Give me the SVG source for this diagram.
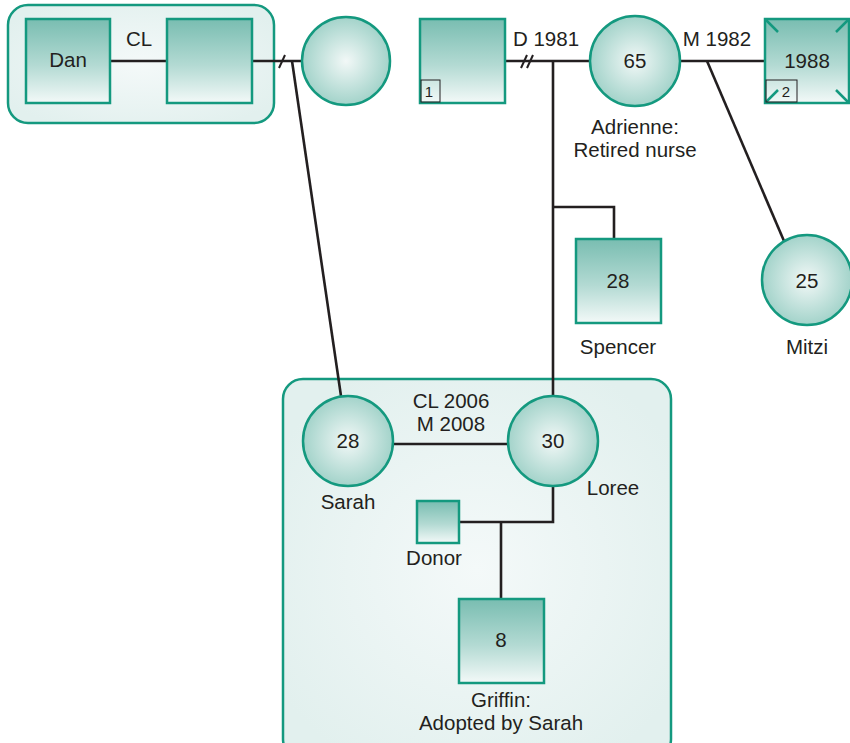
<svg xmlns="http://www.w3.org/2000/svg" width="850" height="743" viewBox="0 0 850 743">
<defs>
<linearGradient id="sq" x1="0" y1="0" x2="0" y2="1">
<stop offset="0" stop-color="#79bdb1"/>
<stop offset="0.55" stop-color="#b3dad3"/>
<stop offset="1" stop-color="#f3f9f8"/>
</linearGradient>
<radialGradient id="ci" cx="0.5" cy="0.5" r="0.5">
<stop offset="0" stop-color="#f2f8f7"/>
<stop offset="1" stop-color="#a3d3ca"/>
</radialGradient>
<radialGradient id="grp" cx="0.5" cy="0.5" r="0.6">
<stop offset="0" stop-color="#f4f9f9"/>
<stop offset="1" stop-color="#e2f0ee"/>
</radialGradient>
<style>
.sq{fill:url(#sq);stroke:#14997f;stroke-width:2.5}
.ci{fill:url(#ci);stroke:#14997f;stroke-width:2.5}
.grp{fill:url(#grp);stroke:#14997f;stroke-width:2.5}
.ln{fill:none;stroke:#231f20;stroke-width:2.6}
.mk{fill:none;stroke:#231f20;stroke-width:2}
.cr{stroke:#14997f;stroke-width:2.5}
.bx{fill:none;stroke:#231f20;stroke-width:1}
text{font-family:"Liberation Sans",Arial,sans-serif;font-size:20.5px;fill:#231f20;text-anchor:middle}
.sm{font-size:15px}
</style>
</defs>
<g id="group-top"><rect class="grp" x="8" y="5" width="266" height="118" rx="20"/></g>
<g id="group-bottom"><rect class="grp" x="283" y="379" width="388" height="380" rx="20"/></g>
<g id="connectors">
<line class="ln" x1="110" y1="61" x2="167" y2="61"/>
<line class="ln" x1="252" y1="61" x2="302" y2="61"/>
<line class="mk" x1="279" y1="68" x2="285" y2="55"/>
<line class="ln" x1="292" y1="61" x2="341" y2="396"/>
<line class="ln" x1="505" y1="61" x2="590" y2="61"/>
<line class="mk" x1="521" y1="68" x2="527" y2="55"/>
<line class="mk" x1="527" y1="68" x2="533" y2="55"/>
<line class="ln" x1="553" y1="61" x2="553" y2="396"/>
<polyline class="ln" points="553,207 614,207 614,239"/>
<line class="ln" x1="680" y1="61" x2="765" y2="61"/>
<line class="ln" x1="707" y1="61" x2="784" y2="241"/>
<line class="ln" x1="393" y1="444" x2="507" y2="444"/>
<polyline class="ln" points="459,522 553,522 553,486"/>
<line class="ln" x1="501" y1="522" x2="501" y2="599"/>
</g>
<g id="dan"><rect class="sq" x="26" y="19" width="84" height="84"/><text x="68" y="67">Dan</text></g>
<text x="139" y="46">CL</text>
<g id="partner-dan"><rect class="sq" x="167" y="19" width="85" height="84"/></g>
<g id="woman-top"><circle class="ci" cx="346" cy="61" r="44"/></g>
<g id="husband-1"><rect class="sq" x="420" y="19" width="85" height="84"/><rect class="bx" x="421" y="80" width="19" height="22"/><text class="sm" x="429" y="97">1</text></g>
<text x="546" y="46">D 1981</text>
<g id="adrienne"><circle class="ci" cx="635" cy="61" r="45"/><text x="635" y="68">65</text><text x="635" y="134">Adrienne:</text><text x="635" y="157">Retired nurse</text></g>
<text x="717" y="46">M 1982</text>
<g id="husband-2"><rect class="sq" x="765" y="19" width="84" height="84"/>
<line class="cr" x1="766" y1="20" x2="778" y2="32"/><line class="cr" x1="848" y1="20" x2="836" y2="32"/>
<line class="cr" x1="766" y1="102" x2="778" y2="90"/><line class="cr" x1="848" y1="102" x2="836" y2="90"/>
<rect class="bx" x="766" y="80" width="31" height="22"/><text class="sm" x="786" y="97">2</text>
<text x="807" y="68">1988</text></g>
<g id="spencer"><rect class="sq" x="576" y="239" width="85" height="84"/><text x="618" y="288">28</text><text x="618" y="354">Spencer</text></g>
<g id="mitzi"><circle class="ci" cx="807" cy="280" r="45"/><text x="807" y="288">25</text><text x="807" y="354">Mitzi</text></g>
<text x="451" y="408">CL 2006</text>
<text x="451" y="431">M 2008</text>
<g id="sarah"><circle class="ci" cx="348" cy="441" r="45"/><text x="348" y="448">28</text><text x="348" y="509">Sarah</text></g>
<g id="loree"><circle class="ci" cx="553" cy="441" r="45"/><text x="553" y="448">30</text><text x="613" y="495">Loree</text></g>
<g id="donor"><rect class="sq" x="417" y="501" width="42" height="42"/><text x="434" y="565">Donor</text></g>
<g id="griffin"><rect class="sq" x="459" y="599" width="85" height="84"/><text x="501" y="647">8</text><text x="501" y="707">Griffin:</text><text x="501" y="730">Adopted by Sarah</text></g>
</svg>
